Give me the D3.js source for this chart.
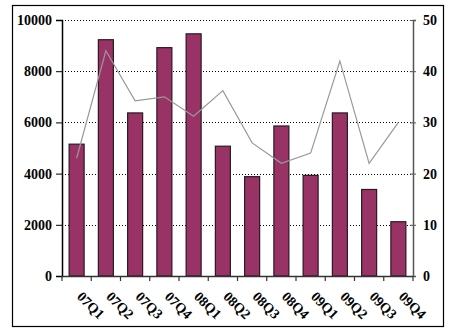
<!DOCTYPE html>
<html><head><meta charset="utf-8">
<script src="https://cdn.jsdelivr.net/npm/d3@7"></script>
<style>body{margin:0;background:#fff}svg{display:block}</style>
</head><body><svg id="c" width="451" height="335"></svg>
<script>
const categories = ["07Q1","07Q2","07Q3","07Q4","08Q1","08Q2","08Q3","08Q4","09Q1","09Q2","09Q3","09Q4"];
const barValues = [5150,9230,6370,8920,9460,5070,3880,5860,3930,6370,3380,2120];
const lineValues = [23,44,34.2,35,31.2,36.2,26,22,24,42,22,30];
const leftTicks = [0,2000,4000,6000,8000,10000];
const rightTicks = [0,10,20,30,40,50];

const svg = d3.select("#c");
const m = {l:62, r:413, t:20, b:276};
const font = "'Liberation Serif','Times New Roman',serif";

svg.append("rect").attr("x",12.5).attr("y",5.5).attr("width",431).attr("height",321)
  .attr("fill","none").attr("stroke","#000").attr("stroke-width",1.2);

const xb = d3.scaleBand().domain(categories).range([m.l,m.r]);
const yL = d3.scaleLinear().domain([0,10000]).range([m.b,m.t]);
const yR = d3.scaleLinear().domain([0,50]).range([m.b,m.t]);

// grid
svg.append("g").selectAll("line").data(leftTicks.filter(d=>d>0)).join("line")
  .attr("x1",m.l).attr("x2",m.r).attr("y1",d=>Math.round(yL(d))+0.5).attr("y2",d=>Math.round(yL(d))+0.5)
  .attr("stroke","#000").attr("stroke-width",1).attr("stroke-dasharray","1,2");

// bars
svg.append("g").selectAll("rect").data(categories).join("rect")
  .attr("x",(d)=>xb(d)+xb.bandwidth()/2-7.5).attr("width",15)
  .attr("y",(d,i)=>yL(barValues[i])).attr("height",(d,i)=>m.b-yL(barValues[i]))
  .attr("fill","#993366").attr("stroke","#2a1a22").attr("stroke-width",1.2);

// line
const line = d3.line().x((d,i)=>xb(categories[i])+xb.bandwidth()/2).y(d=>yR(d));
svg.append("path").datum(lineValues).attr("d",line).attr("fill","none")
  .attr("stroke","#999").attr("stroke-width",1.2);

// left axis
const gl = svg.append("g").attr("transform",`translate(${m.l},0)`)
  .call(d3.axisLeft(yL).tickValues(leftTicks).tickSize(6).tickPadding(4).tickFormat(d3.format("d")));
gl.select(".domain").attr("stroke","#000").attr("stroke-width",1.5);
gl.selectAll(".tick line").attr("stroke","#000");
gl.selectAll("text").attr("font-family",font).attr("font-weight","bold").attr("font-size","14px").attr("fill","#000");

// right axis
const gr = svg.append("g").attr("transform",`translate(${m.r},0)`)
  .call(d3.axisRight(yR).tickValues(rightTicks).tickSize(3).tickPadding(7));
gr.select(".domain").attr("stroke","#555").attr("stroke-width",1.5);
gr.selectAll(".tick line").attr("stroke","#555").attr("x1",-3);
gr.selectAll("text").attr("font-family",font).attr("font-weight","bold").attr("font-size","14px").attr("fill","#000");

// bottom axis
svg.append("line").attr("x1",m.l).attr("x2",m.r).attr("y1",m.b+0.5).attr("y2",m.b+0.5)
  .attr("stroke","#333").attr("stroke-width",1.5);
const bounds = categories.map(d=>xb(d)).concat([m.r]);
svg.append("g").selectAll("line").data(bounds).join("line")
  .attr("x1",d=>d).attr("x2",d=>d).attr("y1",m.b).attr("y2",m.b+5)
  .attr("stroke","#333").attr("stroke-width",1.2);
svg.append("g").selectAll("text").data(categories).join("text")
  .attr("transform",d=>`translate(${xb(d)+xb.bandwidth()/2+3},${m.b+18}) rotate(45)`)
  .attr("dy","0.35em")
  .attr("font-family",font).attr("font-weight","bold").attr("font-size","14px").attr("fill","#000")
  .text(d=>d);
</script></body></html>
